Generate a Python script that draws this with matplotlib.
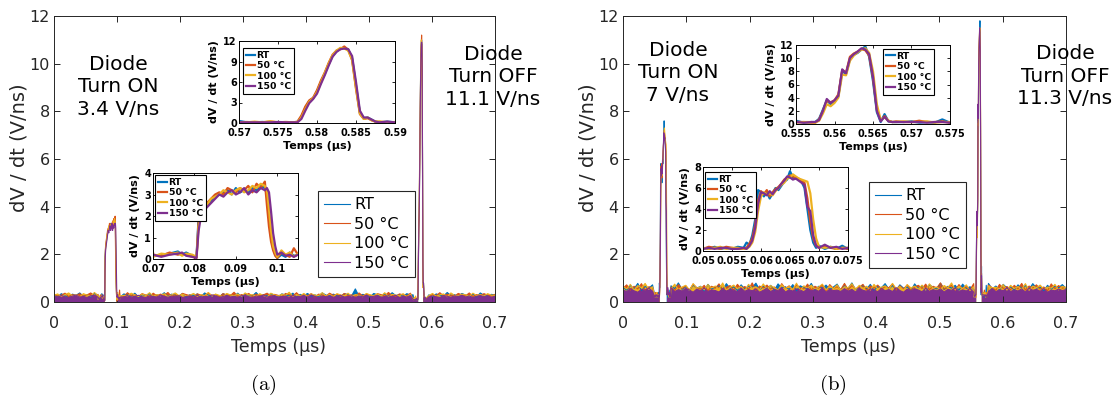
import matplotlib
matplotlib.use("Agg")
import matplotlib.pyplot as plt
from matplotlib.ticker import FuncFormatter
import numpy as np

plt.rcParams['font.family'] = ['DejaVu Sans']
plt.rcParams['mathtext.fontset'] = 'cm'

labels = ['RT', '50 °C', '100 °C', '150 °C']
colors = ['#0072BD', '#D95319', '#EDB120', '#7E2F8E']

# top of the dense switching-noise band, 121 points from 0 to 0.7 us
base_t = np.linspace(0, 0.7, 121)

# ---------------- panel (a) ----------------
a_base = [
    [.3, .22, .35, .26, .2, .33, .28, .38, .24, .31, .21, .36, .27, .3, .23, .4, .26, .32, .22, .34,
     .29, .24, .37, .21, .31, .27, .35, .23, .3, .26, .39, .22, .33, .28, .25, .36, .2, .31, .27, .34,
     .23, .38, .29, .25, .32, .21, .35, .27, .3, .24, .37, .22, .33, .28, .26, .4, .23, .31, .25, .35,
     .28, .22, .34, .3, .26, .37, .21, .32, .27, .36, .24, .3, .22, .38, .29, .25, .33, .27, .23, .35,
     .31, .26, .55, .24, .32, .28, .21, .36, .3, .25, .34, .22, .39, .27, .31, .24, .35, .29, .23, .33,
     .26, .37, .3, .22, .34, .28, .25, .4, .27, .31, .23, .36, .29, .24, .33, .21, .38, .28, .26, .32,
     .3],
    [.33, .25, .29, .37, .22, .31, .27, .35, .24, .3, .38, .26, .32, .21, .36, .28, .25, .34, .3, .23,
     .39, .27, .31, .24, .35, .29, .22, .37, .26, .33, .28, .4, .23, .3, .25, .36, .31, .27, .21, .34,
     .29, .24, .38, .26, .32, .22, .35, .3, .27, .41, .24, .31, .28, .36, .23, .33, .26, .3, .37, .25,
     .32, .28, .22, .36, .3, .26, .39, .24, .31, .27, .35, .21, .33, .29, .25, .37, .28, .32, .23, .36,
     .27, .3, .24, .38, .26, .33, .29, .22, .35, .31, .25, .4, .28, .23, .34, .3, .26, .37, .24, .32,
     .29, .35, .22, .31, .27, .39, .25, .33, .28, .24, .36, .3, .26, .38, .23, .31, .27, .35, .29, .25,
     .32],
    [.28, .34, .23, .31, .38, .26, .3, .22, .35, .29, .25, .4, .27, .32, .24, .36, .3, .21, .33, .28,
     .25, .37, .3, .23, .34, .27, .39, .24, .31, .26, .35, .22, .3, .38, .27, .33, .25, .29, .36, .23,
     .31, .27, .4, .25, .33, .28, .22, .36, .3, .26, .34, .23, .38, .29, .31, .24, .35, .27, .21, .37,
     .3, .25, .33, .28, .41, .24, .31, .26, .36, .22, .34, .29, .27, .39, .25, .32, .23, .35, .3, .26,
     .37, .24, .31, .28, .22, .36, .3, .27, .34, .25, .39, .23, .32, .29, .26, .35, .22, .33, .28, .38,
     .25, .31, .27, .36, .24, .3, .34, .22, .38, .28, .26, .33, .3, .24, .37, .27, .31, .25, .35, .29,
     .28],
    [.24, .2, .27, .22, .18, .25, .29, .21, .23, .19, .26, .28, .2, .24, .22, .3, .19, .25, .23, .21,
     .27, .2, .24, .28, .22, .19, .26, .23, .21, .29, .24, .2, .25, .22, .27, .19, .23, .26, .21, .28,
     .2, .24, .22, .3, .25, .19, .23, .27, .21, .24, .2, .26, .28, .22, .19, .25, .23, .29, .21, .24,
     .27, .2, .23, .25, .19, .28, .22, .24, .26, .21, .3, .23, .19, .25, .22, .27, .2, .24, .28, .21,
     .23, .26, .19, .25, .22, .29, .21, .24, .27, .2, .23, .26, .22, .28, .19, .24, .21, .27, .25, .2,
     .23, .29, .21, .25, .22, .19, .27, .24, .2, .26, .23, .28, .21, .25, .19, .24, .27, .22, .26, .2,
     .24],
]

a_on_t = [0.070, 0.072, 0.074, 0.076, 0.077, 0.078, 0.0795, 0.0805, 0.081, 0.0815, 0.082, 0.083,
          0.084, 0.085, 0.086, 0.087, 0.088, 0.089, 0.090, 0.091, 0.092, 0.093, 0.094, 0.095, 0.096,
          0.097, 0.0975, 0.098, 0.0985, 0.099, 0.0995, 0.100, 0.101, 0.102, 0.103, 0.104, 0.105]
a_on = [
    [.15, .2, .25, .35, .2, .3, .15, .1, 1.9, 2.1, 2.3, 2.5, 2.7, 2.9, 3.0, 3.1, 3.2, 3.0, 3.3, 3.1,
     3.2, 3.1, 3.3, 3.2, 3.4, 3.3, 3.0, 2.0, 1.0, .5, .2, .05, .2, .1, .3, .15, .2],
    [.2, .15, .3, .2, .25, .2, .1, .05, 1.7, 2.2, 2.4, 2.6, 2.8, 3.0, 3.1, 3.0, 3.3, 3.2, 3.1, 3.3,
     3.2, 3.4, 3.1, 3.5, 3.3, 3.6, 2.5, 1.5, .8, .4, .15, .05, .3, .2, .1, .5, .2],
    [.1, .25, .2, .3, .15, .25, .2, .1, 1.5, 2.0, 2.3, 2.5, 2.8, 2.9, 3.0, 3.2, 3.1, 3.0, 3.2, 3.3,
     3.1, 3.2, 3.4, 3.3, 3.5, 3.4, 3.2, 2.3, 1.3, .6, .3, .1, .4, .2, .3, .1, .25],
    [.2, .1, .2, .25, .3, .15, .1, .05, 1.3, 1.9, 2.2, 2.4, 2.6, 2.8, 3.0, 2.9, 3.1, 3.2, 3.0, 3.1,
     3.3, 3.0, 3.2, 3.1, 3.3, 3.2, 3.3, 3.1, 2.2, 1.2, .6, .2, .3, .15, .2, .1, .2],
]

a_off_t = [0.570, 0.571, 0.572, 0.573, 0.574, 0.575, 0.576, 0.577, 0.5775, 0.578, 0.5785, 0.579,
           0.5795, 0.580, 0.5805, 0.581, 0.5815, 0.582, 0.5825, 0.583, 0.5835, 0.584, 0.5845, 0.585,
           0.5855, 0.586, 0.5865, 0.587, 0.5875, 0.588, 0.589, 0.590]
a_off = [
    [.3, .1, .1, .15, .1, .1, .1, .1, .15, .9, 2.2, 3.2, 3.6, 4.6, 6.0, 7.2, 8.6, 9.8, 10.5, 10.9,
     11.0, 10.8, 9.5, 5.5, 1.5, .7, .8, .5, .2, .1, .2, .1],
    [.1, .15, .1, .1, .2, .1, .15, .1, .2, 1.1, 2.4, 3.3, 3.7, 4.8, 6.2, 7.4, 8.8, 10.0, 10.6, 10.8,
     11.2, 10.7, 9.2, 5.0, 1.3, .6, .7, .4, .2, .1, .15, .1],
    [.1, .1, .2, .1, .25, .1, .1, .1, .1, .8, 2.0, 3.1, 3.6, 4.5, 5.9, 7.3, 8.7, 9.9, 10.6, 11.0,
     10.9, 10.6, 9.3, 5.2, 1.4, .6, .8, .4, .2, .25, .1, .15],
    [.1, .1, .1, .1, .1, .15, .1, .1, .1, .6, 1.8, 2.9, 3.5, 4.3, 5.7, 7.0, 8.4, 9.7, 10.4, 10.8,
     10.9, 10.8, 9.8, 6.0, 1.8, .8, .8, .5, .2, .1, .2, .1],
]

# ---------------- panel (b) ----------------
b_base = [
    [.62, .5, .7, .55, .78, .48, .65, .58, .72, .52, .6, .75, .5, .68, .56, .8, .53, .64, .49, .71,
     .58, .66, .47, .74, .55, .62, .69, .51, .77, .57, .63, .48, .72, .54, .67, .6, .79, .52, .65, .56,
     .7, .5, .76, .59, .64, .53, .73, .47, .68, .61, .55, .78, .5, .66, .58, .71, .53, .63, .75, .49,
     .67, .57, .8, .52, .62, .7, .55, .74, .48, .65, .6, .77, .54, .69, .51, .72, .58, .63, .47, .76,
     .56, .68, .5, .73, .61, .55, .79, .52, .66, .58, .7, .49, .75, .57, .64, .53, .71, .6, .48, .78,
     .55, .67, .51, .74, .59, .63, .5, .72, .56, .69, .53, .77, .58, .62, .48, .7, .54, .66, .6, .73,
     .57],
    [.58, .72, .5, .66, .55, .77, .49, .64, .6, .7, .53, .79, .57, .63, .48, .73, .56, .68, .51, .75,
     .6, .54, .7, .47, .66, .58, .76, .52, .62, .69, .5, .74, .57, .65, .53, .8, .49, .67, .59, .71,
     .54, .63, .48, .77, .56, .68, .52, .72, .6, .55, .75, .5, .66, .58, .7, .47, .73, .57, .64, .53,
     .78, .51, .69, .56, .62, .74, .49, .67, .58, .71, .53, .65, .6, .76, .5, .68, .55, .72, .48, .63,
     .7, .57, .75, .52, .66, .59, .8, .54, .62, .69, .5, .73, .56, .64, .51, .77, .58, .68, .53, .71,
     .6, .49, .74, .57, .65, .52, .7, .55, .78, .5, .67, .59, .72, .54, .63, .47, .76, .56, .69, .58,
     .62],
    [.66, .55, .74, .5, .69, .6, .78, .53, .64, .57, .72, .49, .68, .56, .75, .52, .63, .7, .48, .77,
     .57, .65, .51, .73, .59, .67, .54, .8, .5, .62, .71, .56, .66, .48, .74, .58, .64, .52, .76, .55,
     .69, .6, .5, .73, .57, .65, .53, .79, .49, .68, .58, .71, .54, .63, .75, .51, .67, .56, .72, .48,
     .64, .6, .77, .53, .7, .57, .66, .5, .74, .55, .62, .68, .52, .78, .56, .65, .49, .73, .59, .67,
     .54, .71, .5, .76, .58, .63, .53, .69, .6, .8, .51, .66, .56, .72, .48, .64, .57, .75, .52, .68,
     .59, .62, .55, .73, .5, .7, .57, .65, .53, .77, .49, .67, .6, .71, .54, .63, .58, .74, .51, .66,
     .6],
    [.5, .44, .56, .47, .41, .53, .49, .58, .45, .51, .42, .55, .48, .6, .43, .52, .46, .57, .5, .41,
     .54, .47, .59, .44, .51, .48, .42, .56, .46, .53, .5, .43, .58, .45, .52, .47, .55, .41, .49, .57,
     .44, .53, .48, .6, .42, .51, .46, .55, .5, .43, .57, .47, .52, .45, .59, .41, .54, .48, .5, .44,
     .56, .46, .53, .42, .58, .49, .45, .55, .51, .43, .57, .47, .52, .44, .6, .48, .41, .54, .46, .56,
     .5, .43, .58, .45, .52, .47, .55, .42, .53, .49, .59, .44, .51, .46, .57, .41, .54, .48, .5, .45,
     .56, .43, .52, .47, .6, .44, .51, .46, .55, .42, .58, .49, .53, .45, .57, .41, .5, .47, .54, .48,
     .52],
]

b_on_t = [0.050, 0.051, 0.052, 0.053, 0.054, 0.055, 0.056, 0.057, 0.0575, 0.058, 0.0585, 0.059,
          0.0595, 0.060, 0.0605, 0.061, 0.0615, 0.062, 0.0625, 0.063, 0.0635, 0.064, 0.0645, 0.065,
          0.0655, 0.066, 0.0665, 0.067, 0.0675, 0.068, 0.0685, 0.069, 0.0695, 0.070, 0.071, 0.072,
          0.073, 0.074, 0.075]
b_on = [
    [.3, .2, .4, .2, .3, .2, .4, .3, .8, .6, 1.5, 3.0, 5.8, 5.6, 5.2, 5.6, 5.0, 5.5, 6.0, 5.8, 6.2,
     6.6, 6.8, 7.6, 7.0, 6.9, 6.8, 6.6, 6.0, 4.0, 2.0, .8, .3, .5, .2, .4, .2, .5, .2],
    [.2, .4, .3, .2, .4, .3, .2, .2, .3, .7, 1.2, 2.5, 4.8, 5.7, 5.4, 5.8, 5.2, 5.6, 5.9, 6.1, 6.4,
     6.8, 7.0, 7.2, 7.1, 7.0, 6.9, 6.7, 6.5, 5.0, 2.8, 1.2, .5, .3, .5, .3, .2, .3, .2],
    [.3, .2, .3, .4, .2, .3, .3, .2, .2, .4, .8, 1.8, 3.8, 5.2, 5.6, 5.4, 5.5, 5.3, 5.7, 6.0, 6.3,
     6.5, 6.9, 7.0, 7.3, 7.1, 6.9, 6.8, 6.7, 6.6, 5.5, 3.0, 1.2, .4, .3, .4, .2, .3, .3],
    [.2, .3, .2, .3, .3, .2, .2, .3, .2, .5, 1.0, 2.2, 4.5, 5.6, 5.5, 5.3, 5.7, 5.4, 5.8, 6.0, 6.4,
     6.7, 7.1, 7.0, 6.8, 6.9, 6.7, 6.5, 6.3, 4.2, 3.8, 1.5, .5, .3, .6, .3, .4, .2, .3],
]

b_off_t = [0.555, 0.556, 0.557, 0.5575, 0.558, 0.5585, 0.559, 0.5595, 0.560, 0.5605, 0.561, 0.5615,
           0.562, 0.5625, 0.563, 0.5635, 0.564, 0.5645, 0.565, 0.5655, 0.566, 0.5665, 0.567, 0.5675,
           0.568, 0.569, 0.570, 0.571, 0.572, 0.573, 0.574, 0.575]
b_off = [
    [.5, .2, .3, .3, .8, 2.2, 3.6, 3.0, 3.4, 4.2, 8.0, 7.6, 9.8, 10.5, 10.8, 11.3, 11.8, 10.2, 6.5,
     1.8, .3, 1.5, .4, .3, .3, .3, .4, .2, .3, .2, .7, .2],
    [.3, .3, .2, .2, .7, 2.0, 3.5, 3.3, 3.6, 4.5, 8.2, 7.8, 10.2, 10.7, 11.0, 11.4, 11.2, 10.4, 7.0,
     2.2, .5, 1.2, .5, .3, .4, .3, .3, .5, .3, .3, .4, .2],
    [.2, .3, .3, .2, .5, 1.6, 3.0, 2.7, 3.2, 4.0, 7.5, 7.4, 9.6, 10.4, 10.9, 11.3, 11.5, 10.8, 8.0,
     3.0, .6, 1.0, .5, .3, .3, .4, .3, .3, .4, .2, .3, .3],
    [.3, .2, .3, .3, .6, 2.0, 3.8, 3.2, 3.6, 4.3, 8.3, 7.7, 10.0, 10.6, 11.0, 11.5, 11.3, 10.6, 7.2,
     2.0, .4, 1.1, .4, .3, .3, .3, .3, .3, .2, .3, .3, .2],
]


def trace(base, t_on, v_on, t_off, v_off):
    tb = base_t
    keep = ~(((tb >= t_on[0]) & (tb <= t_on[-1])) | ((tb >= t_off[0]) & (tb <= t_off[-1])))
    t = np.concatenate([tb[keep], t_on, t_off])
    v = np.concatenate([np.array(base)[keep], v_on, v_off])
    o = np.argsort(t)
    return t[o], v[o]


fmt = FuncFormatter(lambda x, p: f'{x:g}')
GREY = '#262626'


def style_main(ax):
    ax.set_xlim(0, 0.7)
    ax.set_ylim(0, 12)
    ax.set_xticks(np.arange(0, 0.71, 0.1))
    ax.set_yticks(np.arange(0, 13, 2))
    ax.xaxis.set_major_formatter(fmt)
    ax.tick_params(direction='in', top=True, right=True, length=4.5, width=0.7,
                   labelsize=11.5, colors=GREY)
    ax.tick_params(axis='x', pad=10)
    ax.tick_params(axis='y', pad=3)
    for s in ax.spines.values():
        s.set_color(GREY)
        s.set_linewidth(0.7)
    ax.set_xlabel('Temps (µs)', fontsize=12.5, color=GREY)
    ax.set_ylabel('dV / dt (V/ns)', fontsize=14, color=GREY)
    ax.xaxis.set_label_coords(0.51, -0.125)
    ax.yaxis.set_label_coords(-0.058, 0.54)


def style_inset(ax, xlim, xt, yt, anchor):
    ax.set_xlim(*xlim)
    ax.set_ylim(yt[0], yt[-1])
    ax.set_xticks(xt)
    ax.set_yticks(yt)
    ax.xaxis.set_major_formatter(fmt)
    ax.tick_params(direction='in', top=True, right=True, length=2.5, width=0.6, labelsize=7)
    ax.tick_params(axis='x', pad=3.5)
    ax.tick_params(axis='y', pad=1.5)
    for lab in ax.get_xticklabels() + ax.get_yticklabels():
        lab.set_fontweight('bold')
    for s in ax.spines.values():
        s.set_linewidth(0.7)
    ax.set_xlabel('Temps (µs)', fontsize=8, fontweight='bold', labelpad=2)
    ax.set_ylabel('dV / dt (V/ns)', fontsize=8, fontweight='bold', labelpad=3)
    lg = ax.legend(loc='upper left', bbox_to_anchor=anchor, borderaxespad=0,
                   handlelength=1.0, handletextpad=0.15, labelspacing=0.15, borderpad=0.3,
                   fancybox=False, framealpha=1, prop={'weight': 'bold', 'size': 6.7})
    lg.get_frame().set_edgecolor('black')
    lg.get_frame().set_linewidth(0.8)


W, H = 1117, 398
fig = plt.figure(figsize=(W / 100, H / 100), dpi=100)


def px(l, r, t, b):
    return [l / W, (H - b) / H, (r - l) / W, (b - t) / H]


panels = [
    dict(main=px(54, 495, 16, 302), ins_off=px(239, 395, 41, 123), ins_on=px(153, 298, 173, 259),
         base=a_base, t_on=a_on_t, on=a_on, t_off=a_off_t, off=a_off,
         off_lim=(0.57, 0.59), off_xt=[0.57, 0.575, 0.58, 0.585, 0.59], off_yt=[0, 3, 6, 9, 12],
         off_anchor=(0.026, 0.915),
         on_lim=(0.07, 0.105), on_xt=[0.07, 0.08, 0.09, 0.1], on_yt=[0, 1, 2, 3, 4],
         on_anchor=(0.014, 0.977),
         leg=(318, 191), txt_on=(118, 87, 'Diode\nTurn ON\n3.4 V/ns'),
         txt_off=(493, 77, 'Diode\nTurn OFF\n11.1 V/ns'), cap=(263, 385, r'$\mathrm{(a)}$')),
    dict(main=px(623, 1066, 16, 302), ins_off=px(796, 950, 45, 124), ins_on=px(703, 848, 167, 251),
         base=b_base, t_on=b_on_t, on=b_on, t_off=b_off_t, off=b_off,
         off_lim=(0.555, 0.575), off_xt=[0.555, 0.56, 0.565, 0.57, 0.575],
         off_yt=[0, 2, 4, 6, 8, 10, 12], off_anchor=(0.565, 0.95),
         on_lim=(0.05, 0.075), on_xt=[0.05, 0.055, 0.06, 0.065, 0.07, 0.075], on_yt=[0, 2, 4, 6, 8],
         on_anchor=(0.014, 0.94),
         leg=(869, 182), txt_on=(678, 73, 'Diode\nTurn ON\n7 V/ns'),
         txt_off=(1065, 76, 'Diode\nTurn OFF\n11.3 V/ns'), cap=(833, 385, r'$\mathrm{(b)}$')),
]

for p in panels:
    ax = fig.add_axes(p['main'])
    a1 = fig.add_axes(p['ins_off'])
    a2 = fig.add_axes(p['ins_on'])
    handles = []
    for i in range(4):
        t, v = trace(p['base'][i], p['t_on'], p['on'][i], p['t_off'], p['off'][i])
        # the switching noise is far denser than a pixel: it shows as a solid band
        ax.fill_between(t, 0, v, where=v < 1.0, color=colors[i], lw=0)
        h, = ax.plot(t, v, color=colors[i], lw=0.8, label=labels[i])
        handles.append(h)
        a1.plot(p['t_off'], p['off'][i], color=colors[i], lw=1.6, label=labels[i])
        a2.plot(t, v, color=colors[i], lw=1.6, label=labels[i])
    style_main(ax)
    style_inset(a1, p['off_lim'], p['off_xt'], p['off_yt'], p['off_anchor'])
    style_inset(a2, p['on_lim'], p['on_xt'], p['on_yt'], p['on_anchor'])
    lg = fig.legend(handles, labels, loc='upper left', borderaxespad=0,
                    bbox_to_anchor=(p['leg'][0] / W, 1 - p['leg'][1] / H),
                    fontsize=11.5, handlelength=1.6, handletextpad=0.25, labelspacing=0.28,
                    borderpad=0.4, fancybox=False, framealpha=1)
    lg.get_frame().set_edgecolor(GREY)
    lg.get_frame().set_linewidth(0.8)
    for x, y, s in (p['txt_on'], p['txt_off']):
        fig.text(x / W, 1 - y / H, s, ha='center', va='center', fontsize=14.5,
                 linespacing=1.25, color='black')
    x, y, s = p['cap']
    fig.text(x / W, 1 - y / H, s, ha='center', va='center', fontsize=15)

fig.savefig('out.png', dpi=100)
